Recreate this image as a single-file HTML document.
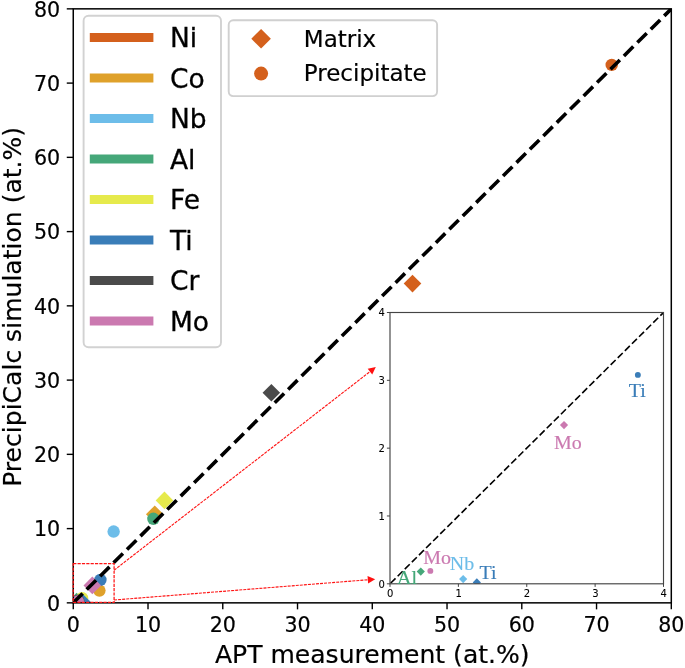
<!DOCTYPE html>
<html lang="en"><head><meta charset="utf-8"><title>APT measurement vs PrecipiCalc simulation</title>
<style>html,body{margin:0;padding:0;background:#fff;overflow:hidden}svg{display:block;will-change:transform}text{font-family:"DejaVu Sans", "Liberation Sans", sans-serif;fill:#000;stroke:#000;stroke-width:.2px}.s text,.s{font-family:"Liberation Serif", "DejaVu Serif", serif}</style>
</head><body>
<svg width="685" height="668" viewBox="0 0 685 668" role="img" aria-label="Scatter plot of PrecipiCalc simulation versus APT measurement">
<defs><clipPath id="cm"><rect x="73.26" y="8.85" width="598.04" height="594.00"/></clipPath>
<clipPath id="ci"><rect x="390.00" y="312.50" width="273.50" height="271.30"/></clipPath></defs>
<g clip-path="url(#cm)">
<path d="M412.50 274.78L421.30 283.58L412.50 292.38L403.70 283.58Z" fill="#d4601c"/>
<circle cx="611.72" cy="64.91" r="6.20" fill="#d4601c"/>
<path d="M154.74 505.47L163.54 514.27L154.74 523.07L145.94 514.27Z" fill="#dfa12b"/>
<circle cx="99.42" cy="590.60" r="6.20" fill="#dfa12b"/>
<path d="M81.26 593.53L90.06 602.33L81.26 611.13L72.46 602.33Z" fill="#6dbde9"/>
<circle cx="113.63" cy="531.57" r="6.20" fill="#6dbde9"/>
<path d="M76.62 592.71L85.42 601.51L76.62 610.31L67.82 601.51Z" fill="#45a779"/>
<circle cx="153.40" cy="518.80" r="6.20" fill="#45a779"/>
<path d="M164.46 491.58L173.26 500.38L164.46 509.19L155.66 500.38Z" fill="#e6ea4c"/>
<circle cx="82.08" cy="598.25" r="6.20" fill="#e6ea4c"/>
<path d="M82.75 593.90L91.55 602.70L82.75 611.50L73.95 602.70Z" fill="#3a7db8"/>
<circle cx="100.40" cy="579.91" r="6.20" fill="#3a7db8"/>
<path d="M271.36 383.92L280.16 392.72L271.36 401.52L262.56 392.72Z" fill="#4a4a4a"/>
<circle cx="78.04" cy="600.62" r="6.20" fill="#4a4a4a"/>
<path d="M92.32 576.60L101.12 585.40L92.32 594.20L83.52 585.40Z" fill="#cb79b0"/>
<circle cx="77.89" cy="601.44" r="6.20" fill="#cb79b0"/>
<line x1="73.26" y1="602.85" x2="671.30" y2="8.85" stroke="#000" stroke-width="3.6" stroke-dasharray="13.21 5.72"/>
</g>
<rect x="73.26" y="8.85" width="598.04" height="594.00" fill="none" stroke="#000" stroke-width="1.5"/>
<line x1="73.26" y1="602.85" x2="73.26" y2="609.35" stroke="#000" stroke-width="1.4"/>
<line x1="66.76" y1="602.85" x2="73.26" y2="602.85" stroke="#000" stroke-width="1.4"/>
<text x="73.26" y="631.85" font-size="20.6" text-anchor="middle">0</text>
<text x="60.16" y="610.70" font-size="20.6" text-anchor="end">0</text>
<line x1="148.01" y1="602.85" x2="148.01" y2="609.35" stroke="#000" stroke-width="1.4"/>
<line x1="66.76" y1="528.60" x2="73.26" y2="528.60" stroke="#000" stroke-width="1.4"/>
<text x="148.01" y="631.85" font-size="20.6" text-anchor="middle">10</text>
<text x="60.16" y="536.45" font-size="20.6" text-anchor="end">10</text>
<line x1="222.77" y1="602.85" x2="222.77" y2="609.35" stroke="#000" stroke-width="1.4"/>
<line x1="66.76" y1="454.35" x2="73.26" y2="454.35" stroke="#000" stroke-width="1.4"/>
<text x="222.77" y="631.85" font-size="20.6" text-anchor="middle">20</text>
<text x="60.16" y="462.20" font-size="20.6" text-anchor="end">20</text>
<line x1="297.52" y1="602.85" x2="297.52" y2="609.35" stroke="#000" stroke-width="1.4"/>
<line x1="66.76" y1="380.10" x2="73.26" y2="380.10" stroke="#000" stroke-width="1.4"/>
<text x="297.52" y="631.85" font-size="20.6" text-anchor="middle">30</text>
<text x="60.16" y="387.95" font-size="20.6" text-anchor="end">30</text>
<line x1="372.28" y1="602.85" x2="372.28" y2="609.35" stroke="#000" stroke-width="1.4"/>
<line x1="66.76" y1="305.85" x2="73.26" y2="305.85" stroke="#000" stroke-width="1.4"/>
<text x="372.28" y="631.85" font-size="20.6" text-anchor="middle">40</text>
<text x="60.16" y="313.70" font-size="20.6" text-anchor="end">40</text>
<line x1="447.03" y1="602.85" x2="447.03" y2="609.35" stroke="#000" stroke-width="1.4"/>
<line x1="66.76" y1="231.60" x2="73.26" y2="231.60" stroke="#000" stroke-width="1.4"/>
<text x="447.03" y="631.85" font-size="20.6" text-anchor="middle">50</text>
<text x="60.16" y="239.45" font-size="20.6" text-anchor="end">50</text>
<line x1="521.79" y1="602.85" x2="521.79" y2="609.35" stroke="#000" stroke-width="1.4"/>
<line x1="66.76" y1="157.35" x2="73.26" y2="157.35" stroke="#000" stroke-width="1.4"/>
<text x="521.79" y="631.85" font-size="20.6" text-anchor="middle">60</text>
<text x="60.16" y="165.20" font-size="20.6" text-anchor="end">60</text>
<line x1="596.54" y1="602.85" x2="596.54" y2="609.35" stroke="#000" stroke-width="1.4"/>
<line x1="66.76" y1="83.10" x2="73.26" y2="83.10" stroke="#000" stroke-width="1.4"/>
<text x="596.54" y="631.85" font-size="20.6" text-anchor="middle">70</text>
<text x="60.16" y="90.95" font-size="20.6" text-anchor="end">70</text>
<line x1="671.30" y1="602.85" x2="671.30" y2="609.35" stroke="#000" stroke-width="1.4"/>
<line x1="66.76" y1="8.85" x2="73.26" y2="8.85" stroke="#000" stroke-width="1.4"/>
<text x="671.30" y="631.85" font-size="20.6" text-anchor="middle">80</text>
<text x="60.16" y="16.70" font-size="20.6" text-anchor="end">80</text>
<text x="372.28" y="663.3" font-size="25.05" text-anchor="middle">APT measurement (at.%)</text>
<text transform="translate(20.5 306.85) rotate(-90)" font-size="25.05" text-anchor="middle">PrecipiCalc simulation (at.%)</text>
<rect x="73.20" y="563.70" width="40.90" height="38.70" fill="none" stroke="#ff1414" stroke-width="1.25" stroke-dasharray="3.2 1.15"/>
<line x1="114.10" y1="570.20" x2="369.95" y2="371.64" stroke="#ff1414" stroke-width="1.12" stroke-dasharray="3 1.05"/><path d="M375.80 367.10L372.22 374.56L367.69 368.71Z" fill="#ff1010"/>
<line x1="114.10" y1="600.00" x2="367.82" y2="579.79" stroke="#ff1414" stroke-width="1.12" stroke-dasharray="3 1.05"/><path d="M375.20 579.20L368.12 583.48L367.53 576.10Z" fill="#ff1010"/>
<rect x="83.6" y="15.7" width="137.4" height="331.6" rx="5" ry="5" fill="#fff" fill-opacity="0.8" stroke="#d2d2d2" stroke-width="1.9"/>
<line x1="89.8" y1="37.55" x2="153.4" y2="37.55" stroke="#d4601c" stroke-width="9"/>
<text transform="translate(169.9 47.15) scale(1 1.03)" font-size="26.5" style="stroke-width:.3px">Ni</text>
<line x1="89.8" y1="78.06" x2="153.4" y2="78.06" stroke="#dfa12b" stroke-width="9"/>
<text transform="translate(169.9 87.66) scale(1 1.03)" font-size="26.5" style="stroke-width:.3px">Co</text>
<line x1="89.8" y1="118.57" x2="153.4" y2="118.57" stroke="#6dbde9" stroke-width="9"/>
<text transform="translate(169.9 128.17) scale(1 1.03)" font-size="26.5" style="stroke-width:.3px">Nb</text>
<line x1="89.8" y1="159.08" x2="153.4" y2="159.08" stroke="#45a779" stroke-width="9"/>
<text transform="translate(169.9 168.68) scale(1 1.03)" font-size="26.5" style="stroke-width:.3px">Al</text>
<line x1="89.8" y1="199.59" x2="153.4" y2="199.59" stroke="#e6ea4c" stroke-width="9"/>
<text transform="translate(169.9 209.19) scale(1 1.03)" font-size="26.5" style="stroke-width:.3px">Fe</text>
<line x1="89.8" y1="240.10" x2="153.4" y2="240.10" stroke="#3a7db8" stroke-width="9"/>
<text transform="translate(169.9 249.70) scale(1 1.03)" font-size="26.5" style="stroke-width:.3px">Ti</text>
<line x1="89.8" y1="280.61" x2="153.4" y2="280.61" stroke="#4a4a4a" stroke-width="9"/>
<text transform="translate(169.9 290.21) scale(1 1.03)" font-size="26.5" style="stroke-width:.3px">Cr</text>
<line x1="89.8" y1="321.12" x2="153.4" y2="321.12" stroke="#cb79b0" stroke-width="9"/>
<text transform="translate(169.9 330.72) scale(1 1.03)" font-size="26.5" style="stroke-width:.3px">Mo</text>
<rect x="228.7" y="20.3" width="208.4" height="75.8" rx="4.5" ry="4.5" fill="#fff" fill-opacity="0.8" stroke="#d0d0d0" stroke-width="1.9"/>
<path d="M261.10 29.00L270.90 38.80L261.10 48.60L251.30 38.80Z" fill="#d4601c"/>
<circle cx="261.10" cy="73.60" r="7.00" fill="#d4601c"/>
<text x="303.8" y="46.8" font-size="23">Matrix</text>
<text x="303.8" y="81.4" font-size="23">Precipitate</text>
<rect x="390.00" y="312.50" width="273.50" height="271.30" fill="#fff"/>
<g clip-path="url(#ci)">
<circle cx="637.86" cy="374.90" r="2.95" fill="#3a7db8"/>
<path d="M564.01 420.99L568.11 425.09L564.01 429.19L559.91 425.09Z" fill="#cb79b0"/>
<circle cx="430.34" cy="570.91" r="2.95" fill="#cb79b0"/>
<path d="M420.77 567.49L424.87 571.59L420.77 575.69L416.67 571.59Z" fill="#45a779"/>
<path d="M463.16 574.95L467.26 579.05L463.16 583.15L459.06 579.05Z" fill="#6dbde9"/>
<path d="M476.84 578.34L480.94 582.44L476.84 586.54L472.74 582.44Z" fill="#3a7db8"/>
<line x1="390.00" y1="583.80" x2="663.50" y2="312.50" stroke="#000" stroke-width="1.6" stroke-dasharray="6.98 3.02" stroke-dashoffset="-0.8"/>
</g>
<rect x="390.00" y="312.50" width="273.50" height="271.30" fill="none" stroke="#444" stroke-width="1.15"/>
<line x1="390.00" y1="583.80" x2="390.00" y2="586.90" stroke="#444" stroke-width="1"/>
<line x1="386.90" y1="583.80" x2="390.00" y2="583.80" stroke="#444" stroke-width="1"/>
<text x="390.30" y="596.70" font-size="10" text-anchor="middle" style="stroke-width:.08px">0</text>
<text x="384.80" y="587.50" font-size="10" text-anchor="end" style="stroke-width:.08px">0</text>
<line x1="458.38" y1="583.80" x2="458.38" y2="586.90" stroke="#444" stroke-width="1"/>
<line x1="386.90" y1="515.97" x2="390.00" y2="515.97" stroke="#444" stroke-width="1"/>
<text x="458.68" y="596.70" font-size="10" text-anchor="middle" style="stroke-width:.08px">1</text>
<text x="384.80" y="519.67" font-size="10" text-anchor="end" style="stroke-width:.08px">1</text>
<line x1="526.75" y1="583.80" x2="526.75" y2="586.90" stroke="#444" stroke-width="1"/>
<line x1="386.90" y1="448.15" x2="390.00" y2="448.15" stroke="#444" stroke-width="1"/>
<text x="527.05" y="596.70" font-size="10" text-anchor="middle" style="stroke-width:.08px">2</text>
<text x="384.80" y="451.85" font-size="10" text-anchor="end" style="stroke-width:.08px">2</text>
<line x1="595.12" y1="583.80" x2="595.12" y2="586.90" stroke="#444" stroke-width="1"/>
<line x1="386.90" y1="380.32" x2="390.00" y2="380.32" stroke="#444" stroke-width="1"/>
<text x="595.42" y="596.70" font-size="10" text-anchor="middle" style="stroke-width:.08px">3</text>
<text x="384.80" y="384.02" font-size="10" text-anchor="end" style="stroke-width:.08px">3</text>
<line x1="663.50" y1="583.80" x2="663.50" y2="586.90" stroke="#444" stroke-width="1"/>
<line x1="386.90" y1="312.50" x2="390.00" y2="312.50" stroke="#444" stroke-width="1"/>
<text x="663.80" y="596.70" font-size="10" text-anchor="middle" style="stroke-width:.08px">4</text>
<text x="384.80" y="316.20" font-size="10" text-anchor="end" style="stroke-width:.08px">4</text>
<text class="s" transform="translate(628.80 397.20) scale(1.08 1)" font-size="18.5" style="fill:#3a7db8;stroke:#3a7db8;stroke-width:.15px">Ti</text>
<text class="s" transform="translate(554.00 448.60) scale(1.08 1)" font-size="18.5" style="fill:#cb79b0;stroke:#cb79b0;stroke-width:.15px">Mo</text>
<text class="s" transform="translate(423.20 563.50) scale(1.08 1)" font-size="18.5" style="fill:#cb79b0;stroke:#cb79b0;stroke-width:.15px">Mo</text>
<text class="s" transform="translate(449.80 570.30) scale(1.08 1)" font-size="18.5" style="fill:#6dbde9;stroke:#6dbde9;stroke-width:.15px">Nb</text>
<text class="s" transform="translate(479.50 578.70) scale(1.08 1)" font-size="18.5" style="fill:#3a7db8;stroke:#3a7db8;stroke-width:.15px">Ti</text>
<text class="s" transform="translate(397.10 583.80) scale(1.08 1)" font-size="18.5" style="fill:#45a779;stroke:#45a779;stroke-width:.15px">Al</text>
</svg></body></html>
